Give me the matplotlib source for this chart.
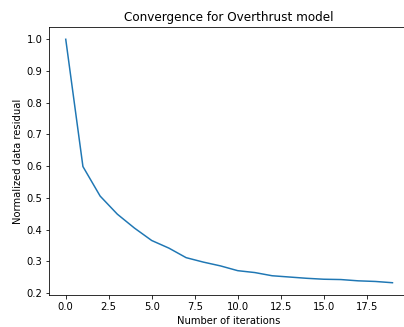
import matplotlib
matplotlib.use("Agg")
import matplotlib.pyplot as plt
import numpy as np

iterations = np.arange(20)
residual = [1.0, 0.599, 0.506, 0.449, 0.405, 0.366, 0.342, 0.312, 0.298, 0.286,
            0.271, 0.265, 0.255, 0.251, 0.247, 0.244, 0.243, 0.239, 0.237, 0.233]

W, H, dpi = 404, 327, 72
fig = plt.figure(figsize=(W / dpi, H / dpi), dpi=dpi)
# axes runs slightly past the right edge, like the cropped original
ax = fig.add_axes([49.4 / W, 32.1 / H, 359.4 / W, 267.8 / H])
ax.plot(iterations, residual)
ax.set_title('Convergence for Overthrust model')
ax.set_xlabel('Number of iterations')
ax.set_ylabel('Normalized data residual')

fig.savefig('out.png', dpi=dpi)
